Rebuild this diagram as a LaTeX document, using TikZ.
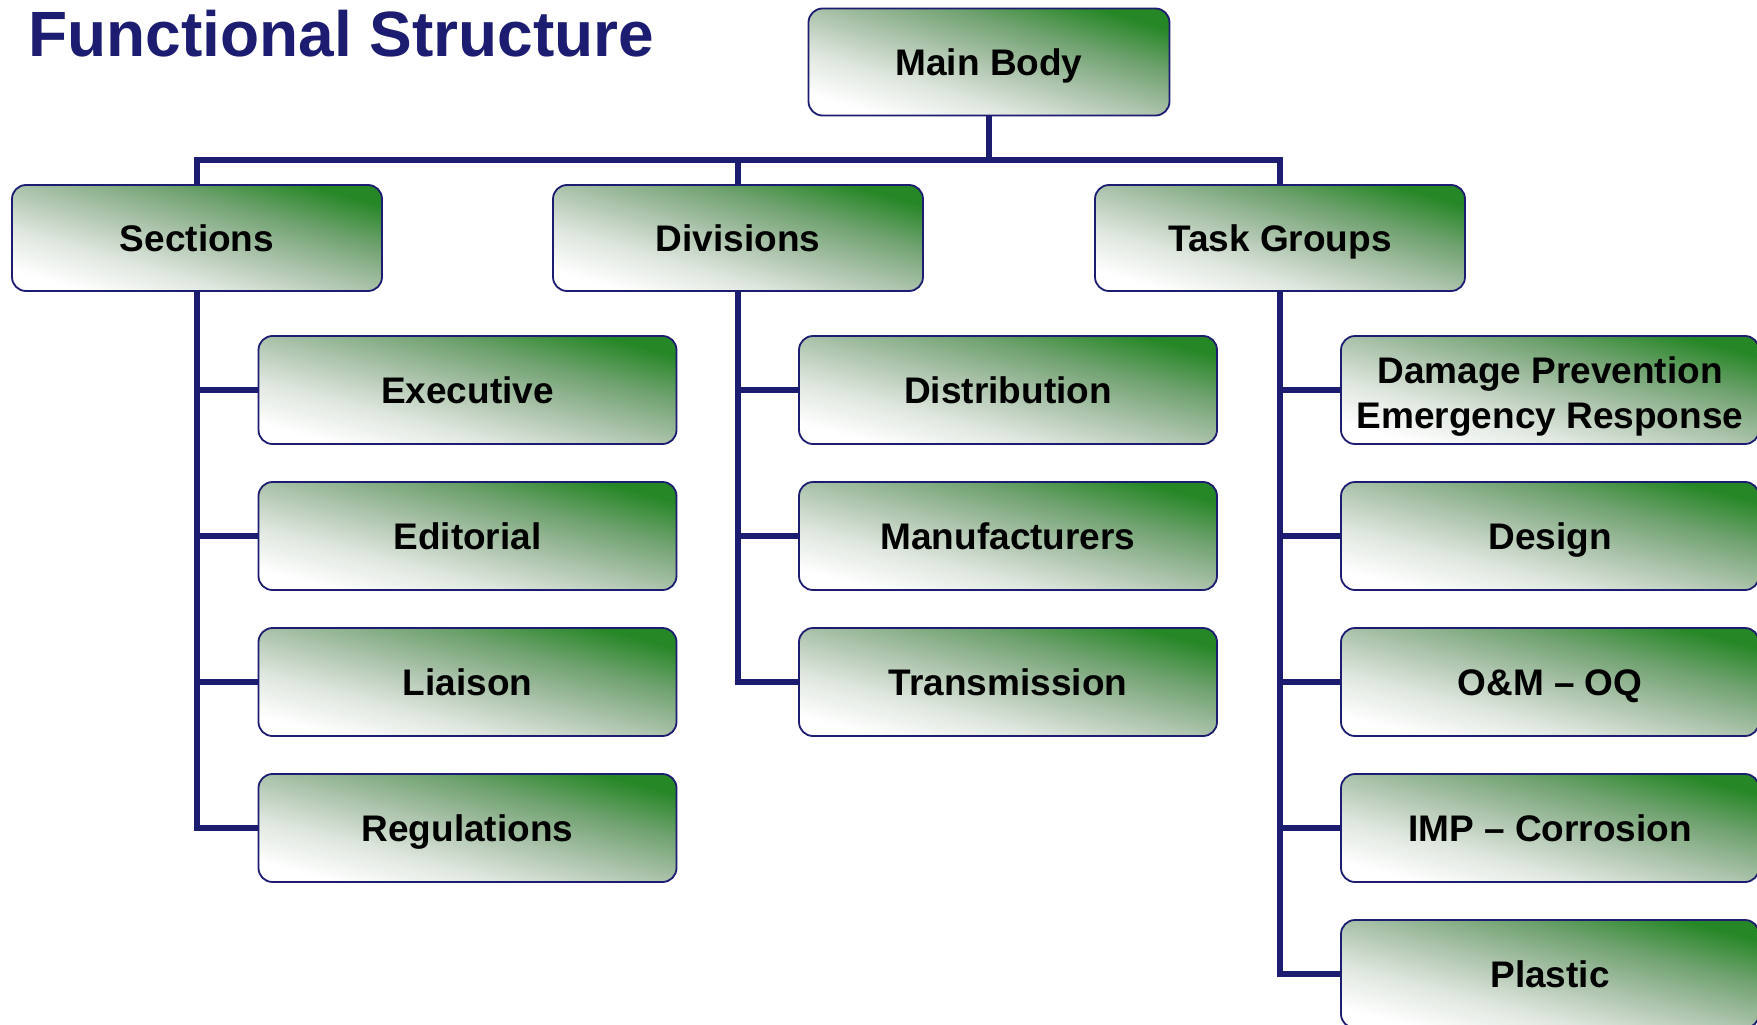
\documentclass[tikz,border=0pt]{standalone}
\usepackage{fontspec}
\setmainfont{Liberation Sans}
\definecolor{navy}{RGB}{28,28,112}
\definecolor{dgreen}{RGB}{38,135,38}
\definecolor{gA}{RGB}{222,230,222}
\definecolor{gB}{RGB}{170,194,170}
\definecolor{gC}{RGB}{112,162,112}
\pgfdeclareverticalshading{boxgrad}{100bp}{color(0bp)=(white); color(25bp)=(white); color(37.5bp)=(gA); color(50bp)=(gB); color(62.5bp)=(gC); color(75bp)=(dgreen); color(100bp)=(dgreen)}
\tikzset{
  box/.style={draw=navy, line width=1.8pt, rounded corners=14pt,
    shade, shading=boxgrad,
    font=\fontsize{37}{45}\selectfont\bfseries, align=center, inner sep=0pt,
    text height=26.5pt, text depth=0pt},
  topbox/.style={box, minimum width=370pt, minimum height=106pt, shading angle=-16},
  childbox/.style={box, minimum width=418pt, minimum height=108pt, shading angle=-14.5},
  conn/.style={draw=navy, line width=6pt},
}
\begin{document}
\begin{tikzpicture}[x=1pt,y=-1pt]
\useasboundingbox (0,0) rectangle (1757,1025);
\node[anchor=base west, text=navy, font=\fontsize{64}{70}\selectfont\bfseries] (title) at (25,57) {Functional Structure};

\node[box, minimum width=361pt, minimum height=107pt, shading angle=-16.5] (main) at (989,62) {Main Body};
\node[topbox] (sec) at (197,238) {Sections};
\node[topbox] (div) at (738,238) {Divisions};
\node[topbox] (tg) at (1280,238) {Task Groups};

\node[childbox] (exe) at (467.5,390) {Executive};
\node[childbox] (edi) at (467.5,536) {Editorial};
\node[childbox] (lia) at (467.5,682) {Liaison};
\node[childbox] (reg) at (467.5,828) {Regulations};

\node[childbox] (dis) at (1008,390) {Distribution};
\node[childbox] (man) at (1008,536) {Manufacturers};
\node[childbox] (tra) at (1008,682) {Transmission};

\node[childbox, text height=76.6pt, text depth=0pt] (dam) at (1550,390) {Damage Prevention\\Emergency Response};
\node[childbox] (des) at (1550,536) {Design};
\node[childbox] (oam) at (1550,682) {O\&M -- OQ};
\node[childbox] (imp) at (1550,828) {IMP -- Corrosion};
\node[childbox] (pla) at (1550,974) {Plastic};

\coordinate (bus) at (989,160);
\draw[conn] (main.south) -- (bus);
\draw[conn] (bus) -| (sec.north);
\draw[conn] (bus) -| (div.north);
\draw[conn] (bus) -| (tg.north);

\foreach \c in {exe,edi,lia,reg} \draw[conn] (sec.south) |- (\c.west);
\foreach \c in {dis,man,tra} \draw[conn] (div.south) |- (\c.west);
\foreach \c in {dam,des,oam,imp,pla} \draw[conn] (tg.south) |- (\c.west);
\end{tikzpicture}
\end{document}
